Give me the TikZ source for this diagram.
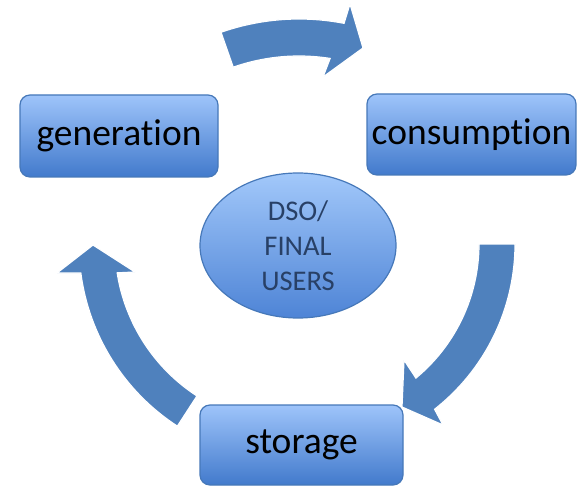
\documentclass[tikz,border=0pt]{standalone}
\usepackage{fontspec}
\setmainfont[Ligatures=NoCommon]{Carlito}
\usetikzlibrary{calc,shapes.geometric}
\definecolor{arrowblue}{RGB}{79,129,189}
\definecolor{boxtop}{RGB}{158,196,250}
\definecolor{boxbot}{RGB}{66,122,204}
\definecolor{elltop}{RGB}{162,200,250}
\definecolor{ellbot}{RGB}{78,132,214}
\definecolor{boxedge}{RGB}{70,120,185}
\definecolor{dsotext}{RGB}{40,64,102}
\begin{document}
\begin{tikzpicture}[x=1pt,y=-1pt,
  stagebox/.style={draw=boxedge, line width=1.2pt, rounded corners=10pt,
    top color=boxtop, bottom color=boxbot, inner sep=0pt,
    font=\fontsize{37.5}{44}\selectfont, text=black},
  hubellipse/.style={ellipse, draw=boxedge, line width=1.2pt,
    top color=elltop, bottom color=ellbot, inner sep=0pt, align=center,
    text=dsotext, font=\fontsize{28.5}{35}\selectfont},
  cyclearrow/.style={fill=arrowblue, draw=white, line width=1.2pt, line join=miter}]
\useasboundingbox (0,0) rectangle (577,486);
% boxes
\node[stagebox, minimum width=198pt, minimum height=82pt] (gen) at (119,136) {generation};
\node[stagebox, minimum width=209pt, minimum height=81pt] (cons) at (471.5,134.5) {consumption};
\node[stagebox, minimum width=203pt, minimum height=80pt] (stor) at (301.5,445) {storage};
\node[hubellipse, minimum width=196pt, minimum height=145pt] (dso) at (298,245.5) {DSO/\\FINAL\\USERS};
% centres of the arcs
\coordinate (ct) at (299,255);
\coordinate (cr) at (305,244);
\coordinate (cl) at (295,245);
% top arrow: generation -> consumption
\filldraw[cyclearrow] ($(ct)+(-109.3:236)$) arc[start angle=-109.3, end angle=-79, radius=236]
  -- (350,4) -- (363,48) -- (323,77)
  -- ($(ct)+(-81:199)$) arc[start angle=-81, end angle=-109.3, radius=199] -- cycle;
% right arrow: consumption -> storage
\filldraw[cyclearrow] ($(cr)+(0:210)$) arc[start angle=0, end angle=51.9, radius=210]
  -- (443,425) -- (402,407) -- (404,360)
  -- ($(cr)+(50.4:174)$) arc[start angle=50.4, end angle=0, radius=174] -- cycle;
% left arrow: storage -> generation
\filldraw[cyclearrow] ($(cl)+(123:216)$) arc[start angle=123, end angle=172.55, radius=216]
  -- (57,273) -- (93,245) -- (135,272)
  -- ($(cl)+(171.1:180)$) arc[start angle=171.1, end angle=123, radius=180] -- cycle;
\end{tikzpicture}
\end{document}
